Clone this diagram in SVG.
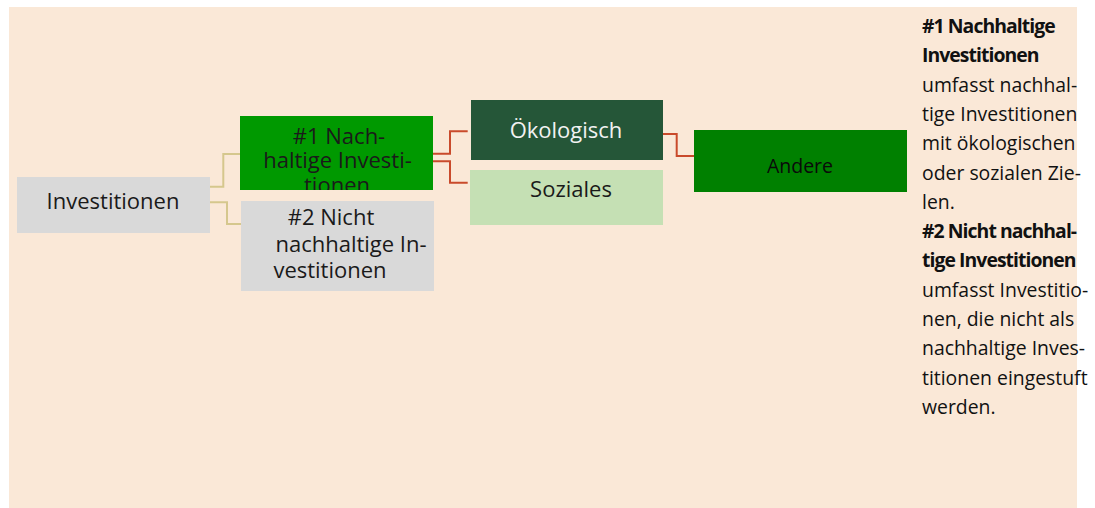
<svg xmlns="http://www.w3.org/2000/svg" width="1095" height="508" viewBox="0 0 1095 508">
<style>
.n{font-family:"Open Sans","Noto Sans",sans-serif;font-size:22px;fill:#1a1a1a;text-anchor:middle}
.r{font-family:"Open Sans","Noto Sans",sans-serif;font-size:19.4px;fill:#111}
.b{font-weight:bold;letter-spacing:-0.95px}
.tan{fill:none;stroke:#D5C78D;stroke-width:2}
.red{fill:none;stroke:#C94A2B;stroke-width:2}
</style>
<defs>
<clipPath id="c1"><rect x="240" y="116" width="193" height="74"/></clipPath>
</defs>
<rect x="9" y="7" width="1068" height="501" fill="#FAE8D7"/>
<g id="connectors">
<polyline class="tan" points="210,186.7 223.3,186.7 223.3,154 240,154"/>
<polyline class="tan" points="210,202.3 227,202.3 227,224 241,224"/>
<polyline class="red" points="433,153.7 450,153.7 450,131.3 467.7,131.3"/>
<polyline class="red" points="433,161.3 450,161.3 450,182.7 467.7,182.7"/>
<polyline class="red" points="662.7,134 676.7,134 676.7,156 694,156"/>
</g>
<g id="investitionen">
<rect x="17" y="177" width="193" height="56" fill="#D9D9D9"/>
<text class="n" x="113" y="209">Investitionen</text>
</g>
<g id="nachhaltig">
<rect x="240" y="116" width="193" height="74" fill="#009900"/>
<g clip-path="url(#c1)">
<text class="n" x="339" y="144">#1 Nach-</text>
<text class="n" x="337.5" y="168">haltige Investi-</text>
<text class="n" x="337" y="192.5">tionen</text>
</g>
</g>
<g id="nicht-nachhaltig">
<rect x="241" y="201" width="193" height="90" fill="#D9D9D9"/>
<text class="n" x="331" y="225">#2 Nicht</text>
<text class="n" x="351" y="251.5">nachhaltige In-</text>
<text class="n" x="330" y="277.5">vestitionen</text>
</g>
<g id="oekologisch">
<rect x="471" y="100" width="192" height="60" fill="#255638"/>
<text class="n" x="566" y="138" style="fill:#F2F2F2">Ökologisch</text>
</g>
<g id="soziales">
<rect x="470" y="170" width="193" height="55" fill="#C5E0B4"/>
<text class="n" x="571" y="197.3">Soziales</text>
</g>
<g id="andere">
<rect x="694" y="130" width="213" height="62" fill="#008000"/>
<text class="n" x="800" y="172.7" style="font-size:19.5px;fill:#0a0a0a">Andere</text>
</g>
<g id="legende">
<text class="r b" x="922" y="33">#1 Nachhaltige</text>
<text class="r b" x="922" y="62.3">Investitionen</text>
<text class="r" x="922" y="91.6">umfasst nachhal-</text>
<text class="r" x="922" y="120.9">tige Investitionen</text>
<text class="r" x="922" y="150.2">mit ökologischen</text>
<text class="r" x="922" y="179.5">oder sozialen Zie-</text>
<text class="r" x="922" y="208.8">len.</text>
<text class="r b" x="922" y="238.1">#2 Nicht nachhal-</text>
<text class="r b" x="922" y="267.4">tige Investitionen</text>
<text class="r" x="922" y="296.7">umfasst Investitio-</text>
<text class="r" x="922" y="326">nen, die nicht als</text>
<text class="r" x="922" y="355.3">nachhaltige Inves-</text>
<text class="r" x="922" y="384.6">titionen eingestuft</text>
<text class="r" x="922" y="413.9">werden.</text>
</g>
</svg>
